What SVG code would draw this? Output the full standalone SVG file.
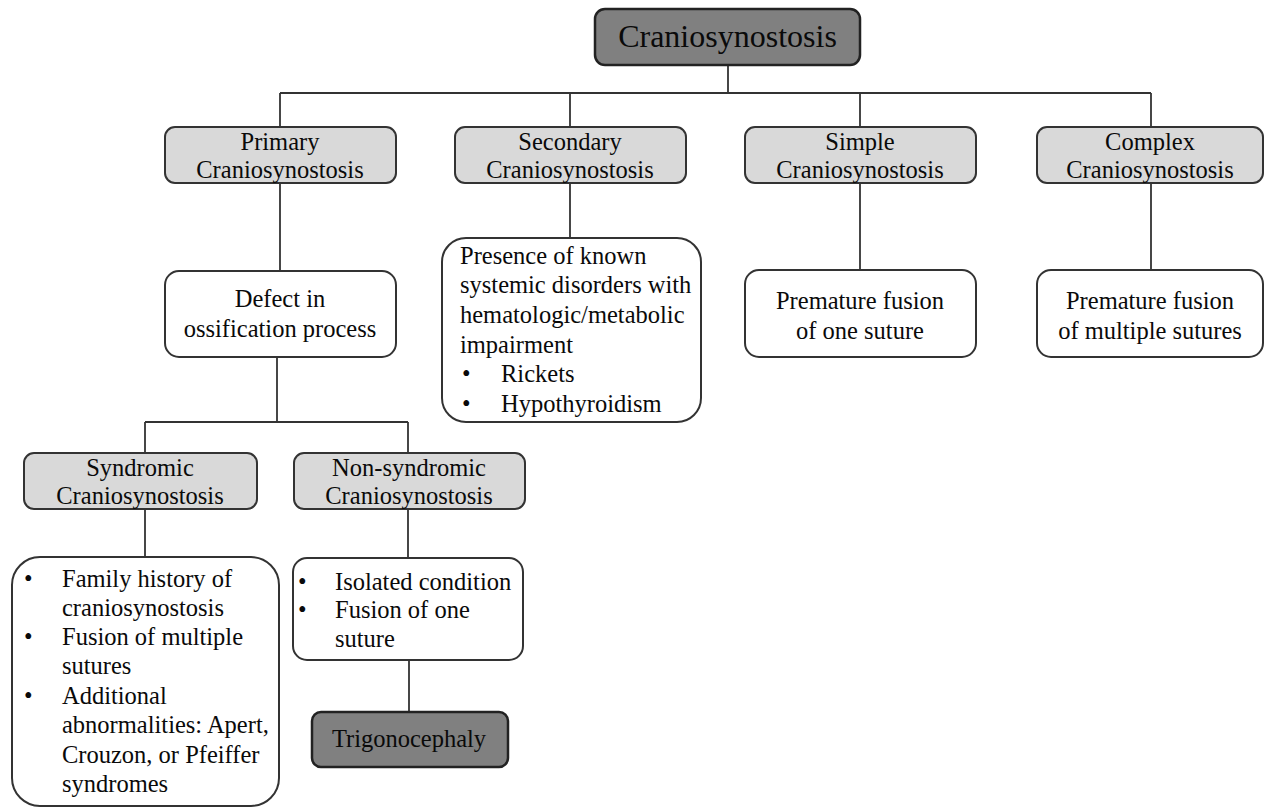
<svg xmlns="http://www.w3.org/2000/svg" width="1264" height="807" viewBox="0 0 1264 807">
<style>
text{font-family:"Liberation Serif","Times New Roman",serif;font-size:24.5px;fill:#0a0a0a}
.c{text-anchor:middle}
.t{font-size:32px}
.g{fill:#d9d9d9;stroke:#333;stroke-width:2}
.w{fill:#fff;stroke:#333;stroke-width:2}
.d{fill:#808080;stroke:#222;stroke-width:2.5}
.ln{stroke:#333;stroke-width:1.8;fill:none}
</style>
<rect width="1264" height="807" fill="#fff"/>
<g id="connectors">
<path class="ln" d="M728 65V93M280 93H1151M280 93V127M570 93V127M860 93V127M1151 93V127"/>
<path class="ln" d="M280 183V271M570 183V238M860 183V270M1151 183V270"/>
<path class="ln" d="M277 357V422M145 422H408M145 422V453M408 422V453"/>
<path class="ln" d="M145 509V557M408 509V558M409 660V712"/>
</g>
<g id="n-root"><rect class="d" x="595" y="9" width="265" height="56" rx="10"/><text class="c t" x="727.5" y="47">Craniosynostosis</text></g>
<g id="n-primary"><rect class="g" x="165" y="127" width="231" height="56" rx="10"/><text class="c" x="280" y="150">Primary</text><text class="c" x="280" y="178">Craniosynostosis</text></g>
<g id="n-secondary"><rect class="g" x="455" y="127" width="231" height="56" rx="10"/><text class="c" x="570" y="150">Secondary</text><text class="c" x="570" y="178">Craniosynostosis</text></g>
<g id="n-simple"><rect class="g" x="745" y="127" width="231" height="56" rx="10"/><text class="c" x="860" y="150">Simple</text><text class="c" x="860" y="178">Craniosynostosis</text></g>
<g id="n-complex"><rect class="g" x="1037" y="127" width="226" height="56" rx="10"/><text class="c" x="1150" y="150">Complex</text><text class="c" x="1150" y="178">Craniosynostosis</text></g>
<g id="n-defect"><rect class="w" x="165" y="271" width="231" height="86" rx="14"/><text class="c" x="280" y="307">Defect in</text><text class="c" x="280" y="337">ossification process</text></g>
<g id="n-secondary-detail"><rect class="w" x="442" y="238" width="259" height="184" rx="24"/>
<text x="460" y="264">Presence of known</text>
<text x="460" y="293">systemic disorders with</text>
<text x="460" y="323">hematologic/metabolic</text>
<text x="460" y="353">impairment</text>
<text x="462" y="382">•</text><text x="501" y="382">Rickets</text>
<text x="462" y="412">•</text><text x="501" y="412">Hypothyroidism</text></g>
<g id="n-simple-detail"><rect class="w" x="745" y="270" width="231" height="87" rx="14"/><text class="c" x="860" y="309">Premature fusion</text><text class="c" x="860" y="339">of one suture</text></g>
<g id="n-complex-detail"><rect class="w" x="1037" y="270" width="226" height="87" rx="14"/><text class="c" x="1150" y="309">Premature fusion</text><text class="c" x="1150" y="339">of multiple sutures</text></g>
<g id="n-syndromic"><rect class="g" x="24" y="453" width="233" height="56" rx="10"/><text class="c" x="140" y="476">Syndromic</text><text class="c" x="140" y="504">Craniosynostosis</text></g>
<g id="n-nonsyndromic"><rect class="g" x="294" y="453" width="231" height="56" rx="10"/><text class="c" x="409" y="476">Non-syndromic</text><text class="c" x="409" y="504">Craniosynostosis</text></g>
<g id="n-syndromic-detail"><rect class="w" x="12" y="557" width="267" height="249" rx="28"/>
<text x="24" y="587">•</text><text x="62" y="587">Family history of</text>
<text x="62" y="616">craniosynostosis</text>
<text x="24" y="645">•</text><text x="62" y="645">Fusion of multiple</text>
<text x="62" y="674">sutures</text>
<text x="24" y="704">•</text><text x="62" y="704">Additional</text>
<text x="62" y="733">abnormalities: Apert,</text>
<text x="62" y="763">Crouzon, or Pfeiffer</text>
<text x="62" y="792">syndromes</text></g>
<g id="n-nonsyndromic-detail"><rect class="w" x="293" y="558" width="230" height="102" rx="14"/>
<text x="298" y="590">•</text><text x="335" y="590">Isolated condition</text>
<text x="298" y="618">•</text><text x="335" y="618">Fusion of one</text>
<text x="335" y="647">suture</text></g>
<g id="n-trigono"><rect class="d" x="312" y="712" width="196" height="55" rx="9"/><text class="c" x="409" y="747">Trigonocephaly</text></g>
</svg>
